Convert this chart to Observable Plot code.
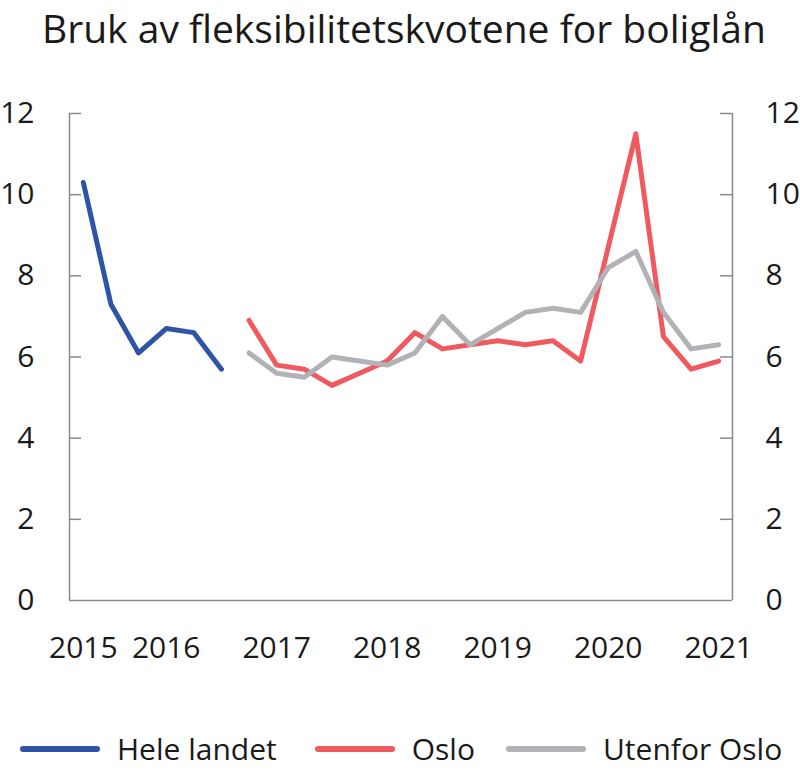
<!DOCTYPE html>
<html>
<head>
<meta charset="utf-8">
<script src="https://cdn.jsdelivr.net/npm/d3@7"></script>
<script src="https://cdn.jsdelivr.net/npm/@observablehq/plot@0.6"></script>
<style>
  html, body { margin: 0; padding: 0; background: #fff; }
  body { width: 800px; height: 779px; position: relative; font-family: "Open Sans", sans-serif; color: #1a1a1a; overflow: hidden; }
  #title { position: absolute; top: 3px; left: 0; width: 808px; text-align: center; font-size: 39px; line-height: 50px; white-space: nowrap; }
  #chart { position: absolute; top: 80px; left: 0; }
  #legend { position: absolute; top: 729px; left: 20px; display: flex; align-items: center; font-size: 30px; line-height: 40px; white-space: nowrap; }
  .item { display: flex; align-items: center; }
  .sw { width: 80px; height: 6px; border-radius: 3px; margin-right: 17px; }
</style>
</head>
<body>
<div id="title">Bruk av fleksibilitetskvotene for boliglån</div>
<div id="chart"></div>
<div id="legend"></div>
<script>
// Data (quarter index on x; Hele landet from index 0, Oslo/Utenfor Oslo from index 6)
const seriesNames = ["Hele landet", "Oslo", "Utenfor Oslo"];
const seriesColors = ["#2d54a6", "#f05a5e", "#b1b2b5"];
const heleLandet = [10.3, 7.3, 6.1, 6.7, 6.6, 5.7];
const oslo = [6.9, 5.8, 5.7, 5.3, 5.6, 5.9, 6.6, 6.2, 6.3, 6.4, 6.3, 6.4, 5.9, 8.7, 11.5, 6.5, 5.7, 5.9];
const utenforOslo = [6.1, 5.6, 5.5, 6.0, 5.9, 5.8, 6.1, 7.0, 6.3, 6.7, 7.1, 7.2, 7.1, 8.2, 8.6, 7.1, 6.2, 6.3];
const heleStart = 0;
const osloStart = 6;
const xTickLabels = ["2015", "2016", "2017", "2018", "2019", "2020", "2021"];
const xTickIndex = [0, 3, 7, 11, 15, 19, 23];
const yTicks = [0, 2, 4, 6, 8, 10, 12];

const rows = [
  ...heleLandet.map((v, i) => ({s: seriesNames[0], i: heleStart + i, v})),
  ...oslo.map((v, i) => ({s: seriesNames[1], i: osloStart + i, v})),
  ...utenforOslo.map((v, i) => ({s: seriesNames[2], i: osloStart + i, v}))
];
const nPoints = osloStart + oslo.length;
const xDomain = [-0.5, nPoints - 0.5];

const W = 800, H = 605, mL = 69, mR = 68, mT = 33, mB = 85;
const plotW = W - mL - mR;
const tickLen = 12;
const axisColor = "#8a8a8a";

const chart = Plot.plot({
  width: W, height: H,
  marginLeft: mL, marginRight: mR, marginTop: mT, marginBottom: mB,
  style: {fontFamily: "Open Sans", fontSize: "30px", color: "#1a1a1a", background: "white", overflow: "visible"},
  x: {domain: xDomain, label: null},
  y: {domain: [0, 12], label: null},
  color: {domain: seriesNames, range: seriesColors},
  marks: [
    Plot.ruleX(xDomain, {stroke: axisColor, strokeWidth: 1.5}),
    Plot.ruleY([0], {stroke: axisColor, strokeWidth: 1.5}),
    Plot.ruleY(yTicks.filter(d => d > 0), {stroke: axisColor, strokeWidth: 1.5, insetRight: plotW - tickLen}),
    Plot.ruleY(yTicks.filter(d => d > 0), {stroke: axisColor, strokeWidth: 1.5, insetLeft: plotW - tickLen}),
    Plot.axisY({anchor: "left", label: null, ticks: yTicks, tickSize: 0, tickPadding: 35, tickFormat: d => String(d), fontSize: 30, fill: "#1a1a1a"}),
    Plot.axisY({anchor: "right", label: null, ticks: yTicks, tickSize: 0, tickPadding: 33, tickFormat: d => String(d), fontSize: 30, fill: "#1a1a1a"}),
    Plot.axisX({label: null, ticks: xTickIndex, tickSize: 0, tickPadding: 36, tickFormat: d => xTickLabels[xTickIndex.indexOf(d)], fontSize: 30, fill: "#1a1a1a"}),
    Plot.line(rows, {x: "i", y: "v", z: "s", stroke: "s", strokeWidth: 5, strokeLinejoin: "round", strokeLinecap: "round"})
  ]
});
document.getElementById("chart").appendChild(chart);

const legend = document.getElementById("legend");
const gaps = [0, 38, 31];
seriesNames.forEach((name, k) => {
  const item = document.createElement("div");
  item.className = "item";
  item.style.marginLeft = gaps[k] + "px";
  const sw = document.createElement("div");
  sw.className = "sw";
  sw.style.background = seriesColors[k];
  const t = document.createElement("span");
  t.textContent = name;
  item.appendChild(sw);
  item.appendChild(t);
  legend.appendChild(item);
});
</script>
</body>
</html>
